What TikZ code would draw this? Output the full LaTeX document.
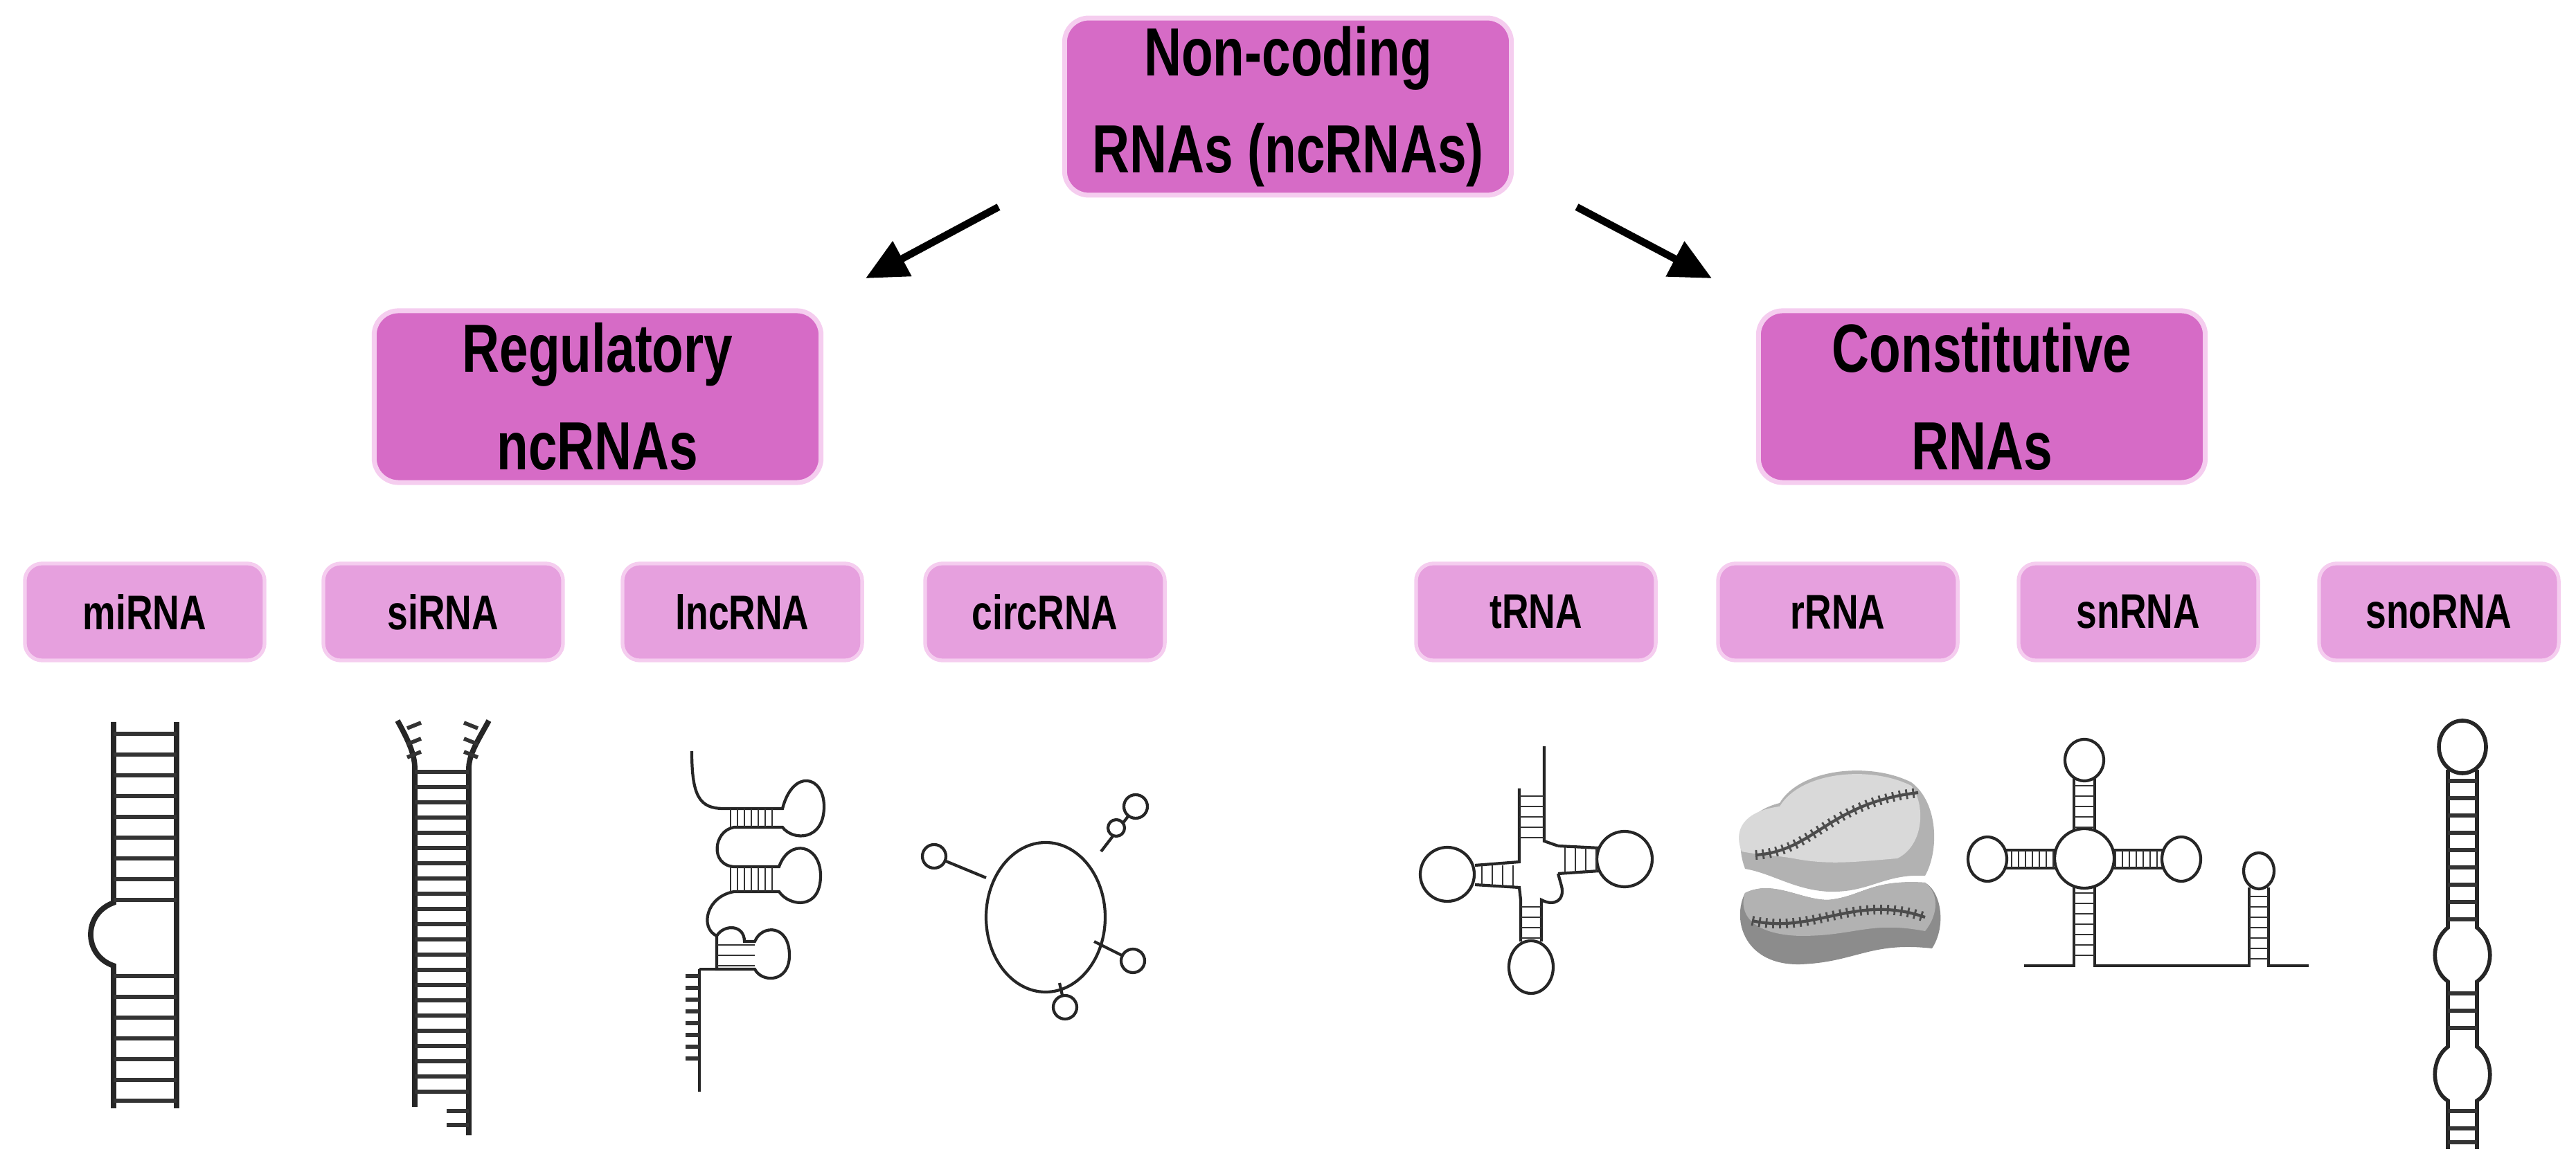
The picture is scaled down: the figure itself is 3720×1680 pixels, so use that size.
\documentclass[tikz,border=0pt]{standalone}
\usepackage{fontspec}
\setmainfont{Liberation Sans}[FakeStretch=0.76]
\usetikzlibrary{arrows.meta,positioning}
\definecolor{boxDark}{HTML}{D66BC6}
\definecolor{boxLight}{HTML}{E6A0DE}
\definecolor{rimPink}{HTML}{F5CDEF}
\tikzset{
  bigBox/.style={rounded corners=0.35cm, fill=boxDark, draw=rimPink, line width=2pt,
    minimum width=6.45cm, minimum height=2.48cm, align=center,
    font=\bfseries\fontsize{28}{40}\selectfont},
  smallBox/.style={rounded corners=0.25cm, fill=boxLight, draw=rimPink, line width=1.5pt,
    minimum width=3.46cm, minimum height=1.40cm,
    font=\bfseries\fontsize{20}{24}\selectfont},
  fatArrow/.style={line width=3pt, -{Triangle[length=0.6cm,width=0.55cm]}},
  strand/.style={line width=2.2pt, black!85},
  thin/.style={line width=1.2pt, black!85},
  rung/.style={line width=1.6pt, black!80},
}
\begin{document}
\begin{tikzpicture}[x=0.01cm, y=-0.01cm]
\useasboundingbox (0,0) rectangle (3720,1680);
% boxes
\node[bigBox] (nc) at (1860,154) {Non-coding\\RNAs (ncRNAs)};
\node[bigBox] (reg) at (863,573) {Regulatory\\ncRNAs};
\node[bigBox] (con) at (2862,573) {Constitutive\\RNAs};
\foreach \name/\x/\txt in {mi/209/miRNA, si/640/siRNA, lnc/1072/lncRNA, circ/1509/circRNA,
    t/2218/tRNA, r/2654/rRNA, sn/3088/snRNA, sno/3522/snoRNA}
  \node[smallBox] (\name) at (\x,884) {\txt};
% arrows
\coordinate (aL) at (1442,299); \coordinate (bL) at (1250,402);
\coordinate (aR) at (2277,299); \coordinate (bR) at (2472,402);
\draw[fatArrow] (aL) -- (bL);
\draw[fatArrow] (aR) -- (bR);
% miRNA
\draw[strand] (164,1043) -- (164,1304) .. controls (120,1320) and (120,1380) .. (164,1395) -- (164,1601);
\draw[strand] (255,1043) -- (255,1601);
\foreach \y in {1060,1090,...,1300} \draw[rung] (164,\y) -- (255,\y);
\foreach \y in {1410,1440,...,1590} \draw[rung] (164,\y) -- (255,\y);
% siRNA
\draw[strand] (574,1041) .. controls (590,1070) and (599,1090) .. (599,1110) -- (599,1599);
\draw[strand] (706,1041) .. controls (690,1070) and (677,1090) .. (677,1110) -- (677,1640);
\foreach \y in {1052,1075,1094} {\draw[rung] (588,\y) -- +(20,-8); \draw[rung] (690,\y) -- +(-20,-8);}
\foreach \y in {1115,1137,...,1590} \draw[rung] (599,\y) -- (677,\y);
\foreach \y in {1605,1625} \draw[rung] (645,\y) -- (677,\y);
% lncRNA
\draw[thin] (999,1085) .. controls (999,1150) and (1010,1168) .. (1045,1168) -- (1130,1168)
  .. controls (1145,1110) and (1190,1120) .. (1190,1165) .. controls (1190,1215) and (1145,1215) .. (1130,1195)
  -- (1060,1195) .. controls (1030,1200) and (1025,1250) .. (1060,1252) -- (1125,1252)
  .. controls (1140,1210) and (1185,1220) .. (1185,1265) .. controls (1185,1315) and (1140,1310) .. (1125,1288)
  -- (1060,1288) .. controls (1020,1295) and (1010,1340) .. (1035,1352) -- (1035,1400) -- (1090,1400)
  .. controls (1100,1420) and (1140,1420) .. (1140,1380) .. controls (1140,1335) and (1100,1335) .. (1090,1360)
  -- (1075,1360) .. controls (1075,1335) and (1045,1335) .. (1035,1352);
\draw[thin] (1010,1400) -- (1035,1400);
\draw[thin] (1010,1400) -- (1010,1577);
\foreach \x in {1055,1065,...,1120} {\draw[rung,line width=0.8pt] (\x,1168) -- (\x,1195); \draw[rung,line width=0.8pt] (\x,1252) -- (\x,1288);}
\foreach \y in {1365,1380,1395} {\draw[rung,line width=0.8pt] (1035,\y) -- (1075,\y); \draw[rung,line width=0.8pt] (1075,\y) -- (1090,\y);}
\foreach \y in {1410,1427,...,1540} \draw[rung] (990,\y) -- (1010,\y);
% circRNA
\draw[thin] (1510,1325) ellipse (86 and 108);
\foreach \cx/\cy/\sx/\sy in {1349/1237/1424/1268, 1640/1165/1590/1230, 1636/1388/1580/1360, 1538/1455/1530/1420} {
  \draw[thin] (\sx,\sy) -- (\cx,\cy);
  \draw[thin, fill=white] (\cx,\cy) circle (17);
}
\draw[thin, fill=white] (1612,1196) circle (12);
% tRNA
\draw[thin] (2230,1078) -- (2230,1215) -- (2250,1222);
\draw[thin] (2194,1139) -- (2194,1245) -- (2130,1250);
\draw[thin] (2090,1263) circle (39);
\draw[thin] (2130,1278) -- (2194,1282) -- (2196,1300) -- (2196,1360);
\draw[thin] (2226,1360) -- (2226,1300) .. controls (2245,1310) and (2260,1300) .. (2255,1280) -- (2250,1262);
\draw[thin] (2346,1241) circle (40);
\draw[thin] (2250,1222) -- (2310,1225); \draw[thin] (2250,1262) -- (2310,1258);
\draw[thin] (2211,1397) ellipse (32 and 38);
\foreach \y in {1150,1165,...,1210} \draw[rung,line width=0.8pt] (2194,\y) -- (2230,\y);
\foreach \x in {2140,2155,2170,2185} \draw[rung,line width=0.8pt] (\x,1250) -- (\x,1280);
\foreach \x in {2260,2275,2290,2305} \draw[rung,line width=0.8pt] (\x,1224) -- (\x,1260);
\foreach \y in {1310,1325,1340,1355} \draw[rung,line width=0.8pt] (2196,\y) -- (2226,\y);
% rRNA
\fill[black!45] (2520,1290) .. controls (2500,1330) and (2520,1395) .. (2600,1393)
  .. controls (2680,1390) and (2700,1360) .. (2790,1370) .. controls (2810,1340) and (2805,1290) .. (2780,1275)
  .. controls (2700,1270) and (2690,1295) .. (2640,1300) .. controls (2600,1300) and (2560,1270) .. (2520,1290);
\fill[black!30] (2520,1290) .. controls (2510,1320) and (2530,1350) .. (2600,1352)
  .. controls (2680,1352) and (2700,1330) .. (2780,1345) .. controls (2800,1320) and (2800,1290) .. (2780,1275)
  .. controls (2700,1270) and (2690,1295) .. (2640,1300) .. controls (2600,1300) and (2560,1270) .. (2520,1290);
\fill[black!30] (2520,1255) .. controls (2500,1200) and (2530,1170) .. (2570,1160)
  .. controls (2600,1110) and (2700,1100) .. (2760,1130) .. controls (2800,1160) and (2800,1230) .. (2780,1265)
  .. controls (2720,1262) and (2700,1290) .. (2640,1288) .. controls (2590,1285) and (2560,1262) .. (2520,1255);
\fill[black!15] (2515,1230) .. controls (2500,1190) and (2530,1170) .. (2570,1165)
  .. controls (2600,1115) and (2700,1105) .. (2760,1135) .. controls (2780,1160) and (2780,1220) .. (2740,1240)
  .. controls (2680,1245) and (2640,1250) .. (2590,1240) .. controls (2560,1235) and (2540,1235) .. (2515,1230);
\draw[thin, black!70, postaction={draw, dash pattern=on 0.8pt off 2pt, line width=4pt}] (2535,1235) .. controls (2620,1230) and (2640,1160) .. (2770,1145);
\draw[thin, black!70, postaction={draw, dash pattern=on 0.8pt off 2pt, line width=4pt}] (2530,1330) .. controls (2620,1350) and (2680,1290) .. (2780,1325);
% snRNA
\draw[thin] (3010,1240) circle (43);
\draw[thin] (2995,1200) -- (2995,1125); \draw[thin] (3025,1200) -- (3025,1125);
\draw[thin] (3010,1098) ellipse (28 and 30);
\draw[thin] (2970,1228) -- (2895,1228); \draw[thin] (2970,1254) -- (2895,1254);
\draw[thin] (2870,1241) ellipse (28 and 32);
\draw[thin] (3050,1228) -- (3125,1228); \draw[thin] (3050,1254) -- (3125,1254);
\draw[thin] (3150,1241) ellipse (28 and 32);
\draw[thin] (2923,1395) -- (2995,1395) -- (2995,1280); \draw[thin] (3025,1280) -- (3025,1395) -- (3248,1395) -- (3248,1282);
\draw[thin] (3276,1282) -- (3276,1395) -- (3334,1395);
\draw[thin] (3262,1258) ellipse (22 and 26);
\foreach \y in {1135,1150,...,1195} \draw[rung,line width=0.8pt] (2995,\y) -- (3025,\y);
\foreach \y in {1290,1305,...,1390} \draw[rung,line width=0.8pt] (2995,\y) -- (3025,\y);
\foreach \y in {1295,1310,...,1385} \draw[rung,line width=0.8pt] (3248,\y) -- (3276,\y);
\foreach \x in {2905,2915,...,2965} \draw[rung,line width=0.8pt] (\x,1228) -- (\x,1254);
\foreach \x in {3055,3065,...,3115} \draw[rung,line width=0.8pt] (\x,1228) -- (\x,1254);
% snoRNA
\draw[strand, line width=1.6pt] (3556,1079) ellipse (34 and 38);
\draw[strand, line width=1.6pt] (3535,1112) -- (3535,1340) .. controls (3510,1360) and (3510,1400) .. (3535,1418)
  -- (3535,1512) .. controls (3510,1530) and (3510,1575) .. (3535,1590) -- (3535,1660);
\draw[strand, line width=1.6pt] (3577,1112) -- (3577,1340) .. controls (3602,1360) and (3602,1400) .. (3577,1418)
  -- (3577,1512) .. controls (3602,1530) and (3602,1575) .. (3577,1590) -- (3577,1660);
\foreach \y in {1128,1153,...,1330} \draw[rung] (3535,\y) -- (3577,\y);
\foreach \y in {1435,1460,...,1500} \draw[rung] (3535,\y) -- (3577,\y);
\foreach \y in {1605,1630,1650} \draw[rung] (3535,\y) -- (3577,\y);
\end{tikzpicture}
\end{document}
